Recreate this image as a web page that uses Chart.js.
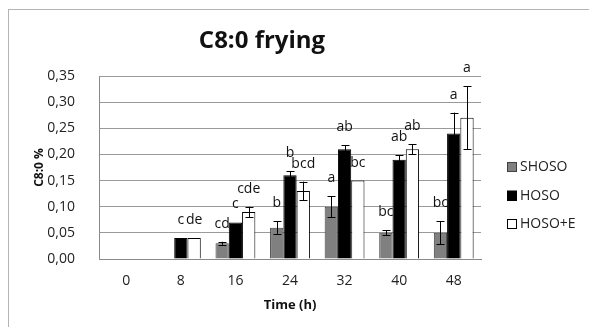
<!DOCTYPE html>
<html>
<head>
<meta charset="utf-8">
<script src="https://cdn.jsdelivr.net/npm/chart.js@4.4.0/dist/chart.umd.min.js"></script>
<style>
  html, body { margin: 0; padding: 0; background: #fff; overflow: hidden; }
  #wrap { position: relative; width: 589px; height: 327px; }
  #frame { position: absolute; left: 8px; top: 9px; width: 600px; height: 400px; border: 1px solid #b4b4b4; }
  canvas { position: absolute; left: 0; top: 0; }
</style>
</head>
<body>
<div id="wrap">
  <div id="frame"></div>
  <canvas id="chart" width="589" height="327"></canvas>
</div>
<script>
const times = ['0', '8', '16', '24', '32', '40', '48'];
const yTickLabels = ['0,00', '0,05', '0,10', '0,15', '0,20', '0,25', '0,30', '0,35'];

const shoso = [0, 0, 0.03, 0.06, 0.10, 0.05, 0.05];
const hoso = [0, 0.04, 0.07, 0.16, 0.21, 0.19, 0.24];
const hosoE = [0, 0.04, 0.09, 0.13, 0.15, 0.21, 0.27];

const shosoErr = [0, 0, 0.003, 0.012, 0.02, 0.005, 0.022];
const hosoErr = [0, 0, 0, 0.008, 0.008, 0.008, 0.04];
const hosoEErr = [0, 0, 0.01, 0.018, 0, 0.01, 0.06];

const shosoLetters = ['', '', 'cd', 'b', 'a', 'bc', 'bc'];
const hosoLetters = ['', 'c', 'c', 'b', 'ab', 'ab', 'a'];
const hosoELetters = ['', 'de', 'cde', 'bcd', 'bc', 'ab', 'a'];

const FONT = '"Open Sans", "DejaVu Sans", sans-serif';
Chart.defaults.font.family = FONT;

// error bars + significance letters on top of the bars
const barExtras = {
  id: 'barExtras',
  afterDatasetsDraw(chart) {
    const ctx = chart.ctx;
    const y = chart.scales.y;
    ctx.save();
    chart.data.datasets.forEach((ds, i) => {
      const meta = chart.getDatasetMeta(i);
      meta.data.forEach((bar, j) => {
        const v = ds.data[j];
        const e = ds.errors[j];
        const top = y.getPixelForValue(v + e);
        if (e > 0) {
          const bot = y.getPixelForValue(v - e);
          ctx.strokeStyle = '#000';
          ctx.lineWidth = 1;
          ctx.beginPath();
          const x = Math.round(bar.x) + 0.5;
          ctx.moveTo(x, top); ctx.lineTo(x, bot);
          ctx.moveTo(x - 4, Math.round(top) + 0.5); ctx.lineTo(x + 4, Math.round(top) + 0.5);
          ctx.moveTo(x - 4, Math.round(bot) + 0.5); ctx.lineTo(x + 4, Math.round(bot) + 0.5);
          ctx.stroke();
        }
        const txt = ds.letters[j];
        if (txt) {
          ctx.fillStyle = '#111';
          ctx.font = '14px ' + FONT;
          ctx.textAlign = 'center';
          ctx.textBaseline = 'middle';
          ctx.fillText(txt, bar.x, top - 18);
        }
      });
    });
    ctx.restore();
  }
};

// title and legend drawn beside the plot
const decor = {
  id: 'decor',
  afterDraw(chart) {
    const ctx = chart.ctx;
    ctx.save();
    ctx.fillStyle = '#111';
    ctx.font = 'bold 24px ' + FONT;
    ctx.textAlign = 'center';
    ctx.textBaseline = 'middle';
    ctx.fillText('C8:0 frying', 262, 41);

    chart.data.datasets.forEach((ds, i) => {
      const yy = 162 + i * 28.5;
      ctx.fillStyle = ds.backgroundColor;
      ctx.fillRect(507, yy, 10, 10);
      ctx.strokeStyle = ds.borderColor;
      ctx.lineWidth = 1;
      ctx.strokeRect(507.5, Math.round(yy) + 0.5, 9, 9);
      ctx.fillStyle = '#222';
      ctx.font = '14px ' + FONT;
      ctx.textAlign = 'left';
      ctx.fillText(ds.label, 520, yy + 5.5);
    });
    ctx.restore();
  }
};

new Chart(document.getElementById('chart'), {
  type: 'bar',
  data: {
    labels: times,
    datasets: [
      { label: 'SHOSO', data: shoso, errors: shosoErr, letters: shosoLetters,
        backgroundColor: '#808080', borderColor: '#404040', borderWidth: 1 },
      { label: 'HOSO', data: hoso, errors: hosoErr, letters: hosoLetters,
        backgroundColor: '#000000', borderColor: '#000000', borderWidth: 1 },
      { label: 'HOSO+E', data: hosoE, errors: hosoEErr, letters: hosoELetters,
        backgroundColor: '#ffffff', borderColor: '#000000', borderWidth: 1 }
    ]
  },
  options: {
    responsive: false,
    animation: false,
    categoryPercentage: 0.73,
    barPercentage: 1,
    layout: { padding: { left: 0, right: 108, top: 76, bottom: 0 } },
    plugins: { legend: { display: false }, tooltip: { enabled: false } },
    scales: {
      x: {
        grid: { display: false, drawTicks: false },
        border: { display: true, color: '#8a8a8a' },
        ticks: { color: '#222', font: { size: 14 }, padding: 14 },
        title: { display: true, text: 'Time (h)', color: '#111',
          font: { size: 13, weight: 'bold' }, padding: { top: 0, bottom: 14 } },
        afterFit: s => { s.height = 68; }
      },
      y: {
        min: 0, max: 0.35,
        grid: { color: '#9a9a9a', drawTicks: false },
        border: { display: true, color: '#8a8a8a' },
        ticks: { stepSize: 0.05, color: '#222', font: { size: 14 }, padding: 24,
          callback: (v, i) => yTickLabels[i] },
        title: { display: true, text: 'C8:0 %', color: '#111',
          font: { size: 12, weight: 'bold' }, padding: { top: 32, bottom: 0 } },
        afterFit: s => { s.width = 99; }
      }
    }
  },
  plugins: [barExtras, decor]
});
</script>
</body>
</html>
